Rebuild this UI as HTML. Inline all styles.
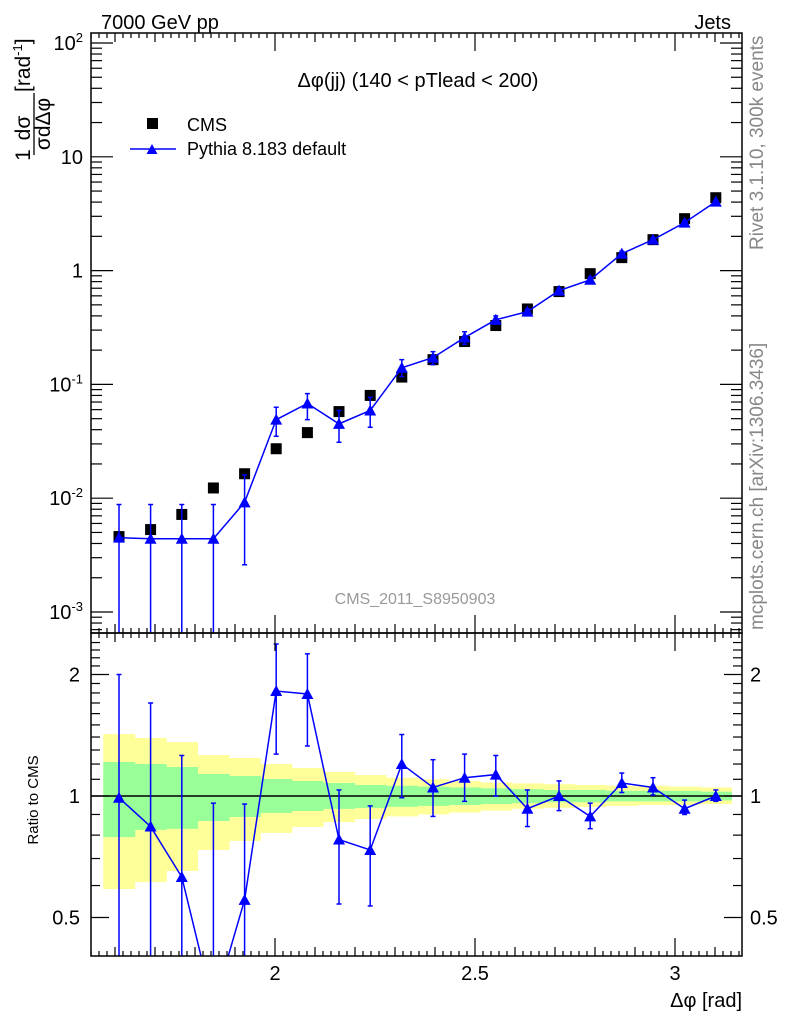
<!DOCTYPE html>
<html><head><meta charset="utf-8">
<style>
html,body{margin:0;padding:0;background:#fff;}
svg{display:block;font-family:"Liberation Sans",sans-serif;}
</style></head>
<body>
<svg id="chart" width="786" height="1024" viewBox="0 0 786 1024" xmlns="http://www.w3.org/2000/svg">
  <text x="101" y="29" font-size="20">7000 GeV pp</text>
  <text x="731" y="29" font-size="20" text-anchor="end">Jets</text>
  <text x="418" y="87" font-size="20" text-anchor="middle">Δφ(jj) (140 &lt; pTlead &lt;  200)</text>
  <text x="415" y="604" font-size="16" fill="#999" text-anchor="middle">CMS_2011_S8950903</text>
  <text transform="translate(763,250) rotate(-90)" font-size="19" fill="#888">Rivet 3.1.10,  300k events</text>
  <text transform="translate(763,630) rotate(-90)" font-size="19" fill="#888">mcplots.cern.ch [arXiv:1306.3436]</text>
  <g font-size="21">
    <text transform="translate(30,155) rotate(-90)" text-anchor="middle">1</text>
    <text transform="translate(30,128) rotate(-90)" text-anchor="middle">dσ</text>
    <line x1="34" y1="155" x2="34" y2="93" stroke="#000" stroke-width="1.3"/>
    <text transform="translate(50,124) rotate(-90)" text-anchor="middle">σdΔφ</text>
    <text transform="translate(30,92) rotate(-90)">[rad<tspan font-size="13" dy="-8">-1</tspan><tspan dy="8">]</tspan></text>
  </g>
  <text transform="translate(38,800) rotate(-90)" font-size="15" text-anchor="middle">Ratio to CMS</text>
  <text x="742" y="1007" font-size="20" text-anchor="end">Δφ [rad]</text>
  <g>
    <rect x="147" y="118" width="11" height="11" fill="#000"/>
    <text x="187" y="131" font-size="18">CMS</text>
    <line x1="130" y1="149" x2="176" y2="149" stroke="#00f" stroke-width="1.5"/>
    <polygon points="146.5,154 157.5,154 152,144" fill="#00f"/>
    <text x="187" y="155" font-size="18">Pythia 8.183 default</text>
  </g>
  <g id="plot"></g>
</svg>
<script>
const xCenters = [1.610,1.689,1.767,1.846,1.924,2.003,2.081,2.160,2.238,2.317,2.395,2.474,2.552,2.631,2.710,2.788,2.867,2.945,3.024,3.102];
const cms = [0.0046,0.0053,0.0072,0.0123,0.0164,0.0272,0.0377,0.0577,0.080,0.116,0.165,0.238,0.329,0.46,0.654,0.94,1.30,1.87,2.86,4.37];
const pythia = [0.0045,0.0044,0.0044,0.0044,0.0092,0.049,0.068,0.045,0.059,0.14,0.172,0.258,0.37,0.436,0.667,0.83,1.41,1.87,2.64,4.04];
const pythiaHi = [0.0088,0.0088,0.0088,0.0088,0.016,0.063,0.083,0.059,0.077,0.165,0.194,0.29,0.40,0.46,0.70,0.87,1.48,1.95,2.75,4.15];
const pythiaLo = [0.0002,0.0002,0.0002,0.0002,0.0026,0.035,0.049,0.031,0.042,0.117,0.149,0.225,0.34,0.41,0.63,0.79,1.34,1.80,2.53,3.93];
const ratio = [0.99,0.84,0.63,0.30,0.553,1.82,1.79,0.78,0.735,1.20,1.05,1.11,1.13,0.93,1.0,0.89,1.077,1.05,0.93,1.0];
const ratioHi = [2.0,1.70,1.26,0.96,0.955,2.38,2.25,1.035,0.945,1.42,1.23,1.27,1.26,1.035,1.09,0.96,1.14,1.11,0.977,1.035];
const ratioLo = [0.1,0.1,0.1,0.1,0.1,1.27,1.33,0.54,0.534,0.99,0.89,0.97,1.0,0.84,0.92,0.83,1.02,1.006,0.90,0.97];
const yelHi = [1.424,1.392,1.360,1.263,1.242,1.200,1.173,1.147,1.127,1.11,1.10,1.09,1.08,1.075,1.07,1.065,1.06,1.06,1.055,1.05];
const yelLo = [0.588,0.612,0.652,0.735,0.774,0.810,0.838,0.862,0.877,0.89,0.90,0.91,0.92,0.93,0.935,0.94,0.945,0.95,0.95,0.955];
const grnHi = [1.214,1.200,1.180,1.134,1.121,1.102,1.089,1.077,1.065,1.06,1.055,1.05,1.045,1.04,1.035,1.035,1.03,1.03,1.03,1.025];
const grnLo = [0.791,0.824,0.829,0.867,0.887,0.908,0.918,0.929,0.934,0.94,0.945,0.95,0.955,0.96,0.965,0.965,0.97,0.97,0.97,0.975];
const xTicks = [2,2.5,3];
const xTickLabels = ["2","2.5","3"];
const yDecades = [-3,-2,-1,0,1,2];
const yDecadeLabels = ["10<tspan font-size='13' dy='-8'>-3</tspan>","10<tspan font-size='13' dy='-8'>-2</tspan>","10<tspan font-size='13' dy='-8'>-1</tspan>","1","10","10<tspan font-size='13' dy='-8'>2</tspan>"];
const rTicks = [0.5,1,2];
const rTickLabels = ["0.5","1","2"];

const L=91,R=742,T=33,M=633,B=956;
const binW = Math.PI/40;
const xpx = v => 275 + (v-2)*400;
const ypx = v => 43 + (2 - Math.log10(v))*113.8;
const rpx = r => 796 - Math.log2(r)*121.5;
const clampT = y => Math.max(T, Math.min(M, y));
const clampR = y => Math.max(M, Math.min(B, y));
const NS="http://www.w3.org/2000/svg";
const g=document.getElementById('plot');
function mk(tag, attrs, parent){const e=document.createElementNS(NS,tag);for(const k in attrs)e.setAttribute(k,attrs[k]);(parent||g).appendChild(e);return e;}

const defs=mk('defs',{});
const c1=mk('clipPath',{id:'ctop'},defs); mk('rect',{x:L,y:T,width:R-L,height:M-T},c1);
const c2=mk('clipPath',{id:'cbot'},defs); mk('rect',{x:L,y:M,width:R-L,height:B-M},c2);

const bands = mk('g',{'clip-path':'url(#cbot)'});


for(let i=0;i<xCenters.length;i++){
  const x0=xpx(xCenters[i]-binW/2), x1=xpx(xCenters[i]+binW/2);
  const y=mk('rect',{x:x0,y:rpx(yelHi[i]),width:x1-x0+0.5,height:rpx(yelLo[i])-rpx(yelHi[i]),fill:'#ffff99'},bands);
  
  
}
for(let i=0;i<xCenters.length;i++){
  const x0=xpx(xCenters[i]-binW/2), x1=xpx(xCenters[i]+binW/2);
  const gr=mk('rect',{x:x0,y:rpx(grnHi[i]),width:x1-x0+0.5,height:rpx(grnLo[i])-rpx(grnHi[i]),fill:'#99ff99'},bands);
  
  
}
const one=mk('line',{x1:L,x2:R,y1:rpx(1),y2:rpx(1),stroke:'#000','stroke-width':1.5});



for(let i=0;i<xCenters.length;i++){
  const r=mk('rect',{x:xpx(xCenters[i])-5.5,y:ypx(cms[i])-5.5,width:11,height:11,fill:'#000'});
  
  
}
function series(vals,hi,lo,ymap,clamp,name,clip){
  const sg=mk('g',{'clip-path':clip});
  
  
  let d='';
  for(let i=0;i<xCenters.length;i++){
    const x=xpx(xCenters[i]);
    const yh=clamp(ymap(hi[i])), yl=clamp(ymap(lo[i]));
    mk('line',{x1:x,x2:x,y1:yh,y2:yl,stroke:'#00f','stroke-width':1.5},sg);
    mk('line',{x1:x-2.5,x2:x+2.5,y1:yh,y2:yh,stroke:'#00f','stroke-width':1.5},sg);
    if(ymap(lo[i])<=clamp(1e9)) mk('line',{x1:x-2.5,x2:x+2.5,y1:yl,y2:yl,stroke:'#00f','stroke-width':1.5},sg);
    d+=(i?'L':'M')+x+','+ymap(vals[i]);
  }
  mk('path',{d:d,fill:'none',stroke:'#00f','stroke-width':1.5},sg);
  for(let i=0;i<xCenters.length;i++){
    const x=xpx(xCenters[i]), y=ymap(vals[i]);
    if(y<clamp(-1e9)||y>clamp(1e9)) continue;
    const p=mk('polygon',{points:`${x-6},${y+5} ${x+6},${y+5} ${x},${y-6}`,fill:'#00f'},sg);
    
    
  }
  return sg;
}
series(pythia,pythiaHi,pythiaLo,ypx,clampT,'pythia-series','url(#ctop)');
series(ratio,ratioHi,ratioLo,rpx,clampR,'pythia-ratio-series','url(#cbot)');

const f1=mk('rect',{x:L,y:T,width:R-L,height:M-T,fill:'none',stroke:'#000','stroke-width':1.5});


const f2=mk('rect',{x:L,y:M,width:R-L,height:B-M,fill:'none',stroke:'#000','stroke-width':1.5});



const tk=mk('g',{stroke:'#000','stroke-width':1.2});


for(let k=15;k<=32;k++){
  const v=k/10, x=xpx(v); if(x<L||x>R) continue;
  const maj = k%5===0, len = maj?18:9;
  [[T,1],[M,-1],[M,1],[B,-1]].forEach(([y0,s])=>mk('line',{x1:x,x2:x,y1:y0,y2:y0+s*len},tk));
}
for(let k=150;k<=316;k+=2){
  const v=k/100,x=xpx(v); if(x<L||x>R||k%10===0) continue;
  [[T,1],[M,-1],[M,1],[B,-1]].forEach(([y0,s])=>mk('line',{x1:x,x2:x,y1:y0,y2:y0+s*5},tk));
}
xTicks.forEach((v,i)=>{
  const t=mk('text',{x:xpx(v),y:980,'font-size':20,'text-anchor':'middle'});
  t.textContent=xTickLabels[i];
  
  
});
yDecades.forEach((d,i)=>{
  const y=ypx(Math.pow(10,d));
  [[L,1],[R,-1]].forEach(([x0,s])=>mk('line',{x1:x0,x2:x0+s*22,y1:y,y2:y},tk));
  for(let m=2;m<=9;m++){
    const ym=ypx(m*Math.pow(10,d)); if(ym<T) continue;
    [[L,1],[R,-1]].forEach(([x0,s])=>mk('line',{x1:x0,x2:x0+s*11,y1:ym,y2:ym},tk));
  }
  const t=mk('text',{x:83,y:y+7,'font-size':20,'text-anchor':'end'});
  t.innerHTML=yDecadeLabels[i];
  
  
});
for(let m=5;m<=9;m++){const ym=ypx(m/10000);if(ym<M)[[L,1],[R,-1]].forEach(([x0,s])=>mk('line',{x1:x0,x2:x0+s*11,y1:ym,y2:ym},tk));}
for(let r=0.3;r<=2.5;r+=0.1){
  const rr=Math.round(r*10)/10, y=rpx(rr); if(y<M||y>B) continue;
  const maj=(rr===0.5||rr===1||rr===2);
  [[L,1],[R,-1]].forEach(([x0,s])=>mk('line',{x1:x0,x2:x0+s*(maj?18:9),y1:y,y2:y},tk));
}
rTicks.forEach((v,i)=>{
  const y=rpx(v);
  const t=mk('text',{x:80,y:y+7,'font-size':20,'text-anchor':'end'});
  t.textContent=rTickLabels[i];
  
  
  const t2=mk('text',{x:750,y:y+7,'font-size':20});
  t2.textContent=rTickLabels[i];
  
  
});
</script>
</body></html>
